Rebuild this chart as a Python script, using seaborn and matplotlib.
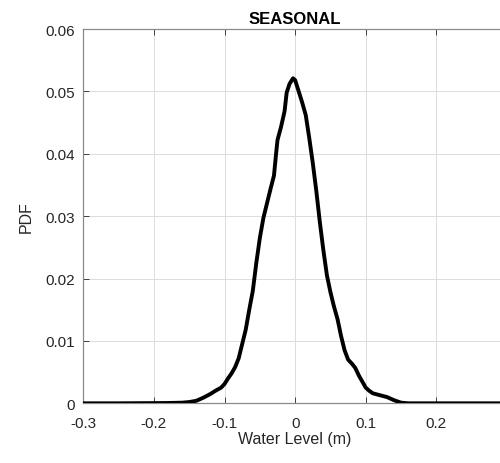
import matplotlib
matplotlib.use("Agg")
import matplotlib.pyplot as plt
import seaborn as sns
import pandas as pd

water_level = [-0.30, -0.25, -0.20, -0.18, -0.16, -0.15, -0.14, -0.13, -0.125, -0.12,
               -0.113, -0.105, -0.10, -0.095, -0.09, -0.085, -0.08, -0.075, -0.07, -0.065,
               -0.06, -0.055, -0.05, -0.045, -0.04, -0.035, -0.03, -0.027, -0.025, -0.02,
               -0.015, -0.012, -0.008, -0.003, 0.0, 0.005, 0.01, 0.015, 0.02, 0.025,
               0.03, 0.035, 0.04, 0.045, 0.05, 0.055, 0.06, 0.065, 0.07, 0.075,
               0.08, 0.085, 0.09, 0.095, 0.10, 0.105, 0.11, 0.12, 0.13, 0.14,
               0.15, 0.16, 0.20, 0.25, 0.30]
pdf = [0.0, 0.0, 0.00003, 0.00005, 0.0001, 0.0002, 0.0004, 0.0009, 0.0012, 0.0015,
       0.0020, 0.0025, 0.0031, 0.0040, 0.0048, 0.0058, 0.0072, 0.0095, 0.0118, 0.0150,
       0.0180, 0.0225, 0.0265, 0.0297, 0.0320, 0.0343, 0.0365, 0.0400, 0.0422, 0.0443,
       0.0468, 0.0498, 0.0512, 0.0521, 0.0518, 0.0500, 0.0482, 0.0462, 0.0425, 0.0385,
       0.0340, 0.0290, 0.0245, 0.0205, 0.0178, 0.0155, 0.0135, 0.0108, 0.0085, 0.0070,
       0.0064, 0.0057, 0.0045, 0.0035, 0.0025, 0.0020, 0.0016, 0.0013, 0.0010, 0.0005,
       0.0001, 0.0, 0.0, 0.0, 0.0]

x_ticks = [-0.3, -0.2, -0.1, 0.0, 0.1, 0.2, 0.3]
x_tick_labels = ["-0.3", "-0.2", "-0.1", "0", "0.1", "0.2", ""]
y_ticks = [0.0, 0.01, 0.02, 0.03, 0.04, 0.05, 0.06]
y_tick_labels = ["0", "0.01", "0.02", "0.03", "0.04", "0.05", "0.06"]

df = pd.DataFrame({"Water Level (m)": water_level, "PDF": pdf})

sns.set_style("white")
plt.rcParams["font.family"] = ["Liberation Sans", "DejaVu Sans"]

fig = plt.figure(figsize=(5.0, 4.64), dpi=100)
ax = fig.add_axes([83.3 / 500, (464 - 404.3) / 464, (507 - 83.3) / 500, (404.3 - 30) / 464])

sns.lineplot(data=df, x="Water Level (m)", y="PDF", ax=ax, color="black",
             linewidth=2.8, sort=False, zorder=3)

ax.set_xlim(-0.3, 0.3)
ax.set_ylim(0, 0.06)
ax.set_xticks(x_ticks)
ax.set_xticklabels(x_tick_labels)
ax.set_yticks(y_ticks)
ax.set_yticklabels(y_tick_labels)
ax.grid(True, color="#dcdcdc", linewidth=0.7)
ax.set_axisbelow(True)

for side in ["left", "top", "bottom"]:
    ax.spines[side].set_visible(True)
    ax.spines[side].set_color("#8a8a8a")
    ax.spines[side].set_linewidth(0.9)
ax.spines["right"].set_visible(False)

ax.tick_params(axis="both", direction="in", length=4, width=0.7, color="#404040",
               labelsize=11, labelcolor="#262626", top=True, bottom=True, left=True)
ax.tick_params(axis="x", pad=9)
ax.tick_params(axis="y", pad=6)

ax.set_xlabel("Water Level (m)", fontsize=11.5, color="#262626", labelpad=1)
ax.set_ylabel("PDF", fontsize=11.5, color="#262626", labelpad=8)
ax.set_title("SEASONAL", fontsize=12, fontweight="bold", color="black", pad=4)

fig.savefig("out.png", dpi=100)
